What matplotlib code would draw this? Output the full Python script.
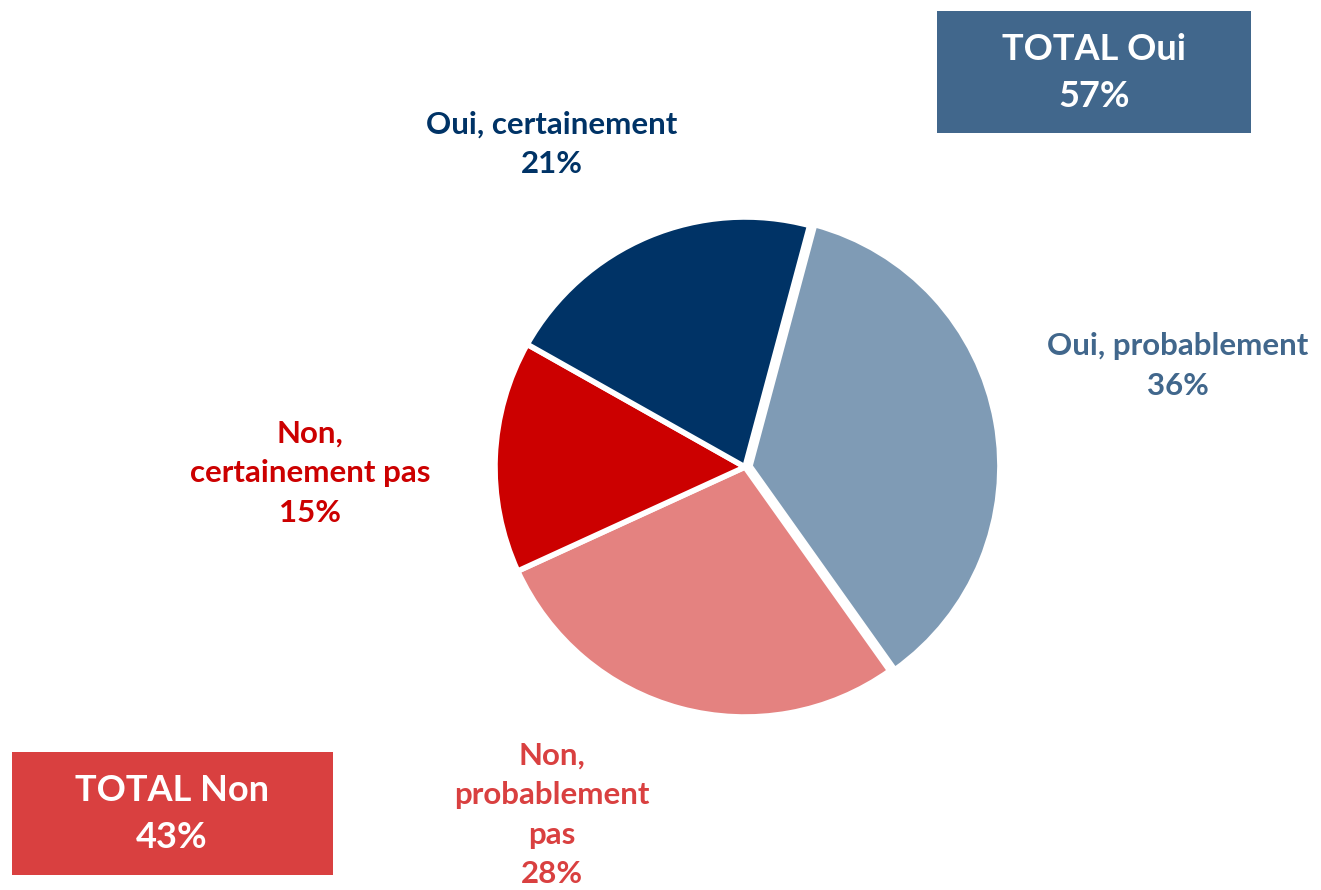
import matplotlib.pyplot as plt
from matplotlib.patches import Rectangle

# Données
categories = ['Oui, probablement', 'Non, probablement pas', 'Non, certainement pas', 'Oui, certainement']
valeurs = [36, 28, 15, 21]
couleurs = ['#7F9BB5', '#E48280', '#CC0000', '#003366']
total_oui = 57
total_non = 43

plt.rcParams['font.family'] = ['Lato', 'DejaVu Sans']
plt.rcParams['font.weight'] = 'bold'

W, H = 1321, 890
fig = plt.figure(figsize=(W / 100, H / 100), dpi=100)

# Axe du camembert centré sur (745, 467) px, rayon 250 px
cx, cy, r = 745, 467, 250
ax = fig.add_axes([(cx - r) / W, (H - cy - r) / H, 2 * r / W, 2 * r / H])
ax.pie(valeurs, colors=couleurs, startangle=75, counterclock=False, radius=1,
       explode=[0.02, 0, 0, 0],
       wedgeprops=dict(edgecolor='white', linewidth=4))
ax.set_xlim(-1, 1)
ax.set_ylim(-1, 1)
ax.set_aspect('equal')
ax.axis('off')

def fx(x):
    return x / W

def fy(y):
    return 1 - y / H

fs = 22.5
ls = 1.5
# Étiquettes des parts
fig.text(fx(552), fy(144), f'{categories[3]}\n{valeurs[3]}%', color='#003366',
         ha='center', va='center', fontsize=fs, fontweight='bold', linespacing=ls)
fig.text(fx(1178), fy(366), f'{categories[0]}\n{valeurs[0]}%', color='#41678C',
         ha='center', va='center', fontsize=fs, fontweight='bold', linespacing=ls)
fig.text(fx(310), fy(473), f'Non,\ncertainement pas\n{valeurs[2]}%', color='#CC0000',
         ha='center', va='center', fontsize=fs, fontweight='bold', linespacing=ls)
fig.text(fx(552), fy(815), f'Non,\nprobablement\npas\n{valeurs[1]}%', color='#D94040',
         ha='center', va='center', fontsize=fs, fontweight='bold', linespacing=ls)

# Encadrés des totaux
fig.add_artist(Rectangle((fx(937), fy(133)), fx(1251 - 937), (133 - 11) / H,
                         transform=fig.transFigure, facecolor='#41678C', edgecolor='none'))
fig.text(fx(1094), fy(73), f'TOTAL Oui\n{total_oui}%', color='white',
         ha='center', va='center', fontsize=26, fontweight='bold', linespacing=1.5)

fig.add_artist(Rectangle((fx(12), fy(875)), fx(333 - 12), (875 - 752) / H,
                         transform=fig.transFigure, facecolor='#D94040', edgecolor='none'))
fig.text(fx(172), fy(814), f'TOTAL Non\n{total_non}%', color='white',
         ha='center', va='center', fontsize=26, fontweight='bold', linespacing=1.5)

fig.savefig('out.png', dpi=100, facecolor='white')
